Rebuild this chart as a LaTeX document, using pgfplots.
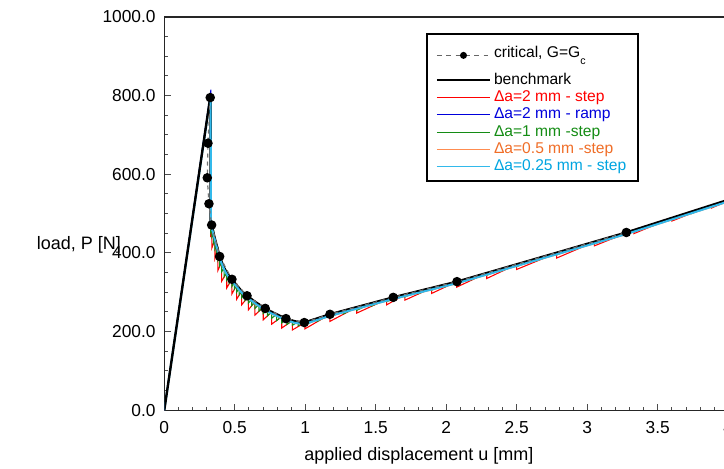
\documentclass[border=0pt]{standalone}
\usepackage{fontspec}
\setmainfont{Liberation Sans}
\usepackage{pgfplots}
\pgfplotsset{compat=1.18}
\definecolor{cred}{RGB}{255,0,0}
\definecolor{cblue}{RGB}{0,0,220}
\definecolor{cgreen}{RGB}{20,140,20}
\definecolor{corange}{RGB}{255,140,80}
\definecolor{corangetext}{RGB}{240,110,40}
\definecolor{ccyan}{RGB}{50,185,235}
\definecolor{ccyantext}{RGB}{0,165,225}
\begin{document}
\begin{tikzpicture}
\begin{axis}[
  at={(0,0)}, anchor=south west,
  scale only axis, width=423pt, height=295pt,
  xmin=0, xmax=4, ymin=0, ymax=1000,
  xtick={0,0.5,...,4}, ytick={0,200,...,1000},
  minor x tick num=4, minor y tick num=3,
  tick pos=left, tick align=inside,
  major tick length=4.9pt, minor tick length=2.6pt,
  axis line style={black!85, line width=0.9pt},
  every tick/.style={black!70, line width=0.7pt},
  tick label style={font=\fontsize{13}{15}\selectfont},
  /pgf/number format/assume math mode=true,
  xticklabel style={yshift=-5pt},
  yticklabel style={xshift=-3pt, /pgf/number format/.cd, fixed, fixed zerofill, precision=1, 1000 sep={}},
  xlabel={applied displacement u [mm]},
  ylabel={load, P [N]},
  every axis x label/.style={at={(rel axis cs:0.4516,0)}, anchor=base, yshift=-38pt, font=\fontsize{13.5}{15}\selectfont},
  every axis y label/.style={at={(rel axis cs:0,0.4076)}, anchor=base east, xshift=-29pt, font=\fontsize{13.5}{15}\selectfont},
  legend style={at={(0.464,0.959)}, anchor=north west, draw=black, line width=1.5pt, fill=white,
    font=\fontsize{11.7}{13}\selectfont, inner xsep=6.5pt, inner ysep=4pt,
    nodes={inner xsep=2pt, inner ysep=0.5pt, text height=9pt, text depth=3pt}},
  legend cell align=left,
  legend image code/.code={\draw[mark repeat=2,mark phase=2,#1] plot coordinates {(0pt,0pt) (20pt,0pt) (40pt,0pt)};},
]
% legend entries
\addlegendimage{black!60, dash pattern=on 3.5pt off 3.5pt, line width=0.8pt, mark=*, mark size=2.2pt, mark options={solid, fill=black, draw=black}}
\addlegendentry[text height=13pt, text depth=10pt]{critical, G=G\raisebox{-5pt}{\fontsize{8}{9}\selectfont c}}
\addlegendimage{black, line width=1.8pt}
\addlegendentry{benchmark}
\addlegendimage{cred, line width=0.8pt}
\addlegendentry[text=cred]{Δa=2 mm - step}
\addlegendimage{cblue, line width=0.8pt}
\addlegendentry[text=cblue]{Δa=2 mm - ramp}
\addlegendimage{cgreen, line width=0.8pt}
\addlegendentry[text=cgreen]{Δa=1 mm -step}
\addlegendimage{corange, line width=0.8pt}
\addlegendentry[text=corangetext]{Δa=0.5 mm -step}
\addlegendimage{ccyan, line width=0.8pt}
\addlegendentry[text=ccyantext]{Δa=0.25 mm - step}

% red: da = 2 mm step
\addplot[forget plot, cred, line width=0.8pt] coordinates {
(0,0) (0.329,805) (0.329,440)
(0.338,468) (0.338,413)
(0.36,435) (0.36,386)
(0.38,408) (0.38,355)
(0.407,377) (0.407,328)
(0.443,350) (0.443,311)
(0.48,333) (0.48,296)
(0.513,318) (0.513,282)
(0.549,303) (0.549,268)
(0.596,289) (0.596,255)
(0.643,276) (0.643,242)
(0.702,262) (0.702,230)
(0.762,250) (0.762,219)
(0.833,238) (0.833,209)
(0.908,228) (0.908,204)
(0.998,223) (0.998,207)
(1.175,244) (1.175,226)
(1.365,262) (1.365,247)
(1.577,282) (1.577,268)
(1.707,294) (1.707,280)
(1.896,311) (1.896,297)
(2.074,327) (2.074,313)
(2.287,349) (2.287,335)
(2.499,371) (2.499,358)
(2.783,400) (2.783,387)
(3.05,428) (3.05,418)
(3.33,458) (3.33,449)
(3.6,489) (3.6,481)
(3.88,521) (3.88,514)
(4.0,532)
};
% green: da = 1 mm step
\addplot[forget plot, cgreen, line width=0.8pt] coordinates {
(0,0) (0.329,805) (0.329,455)
(0.338,468) (0.338,441)
(0.349,451) (0.349,425)
(0.36,435) (0.36,411)
(0.37,421) (0.37,398)
(0.38,408) (0.38,381)
(0.393,391) (0.393,367)
(0.407,377) (0.407,352)
(0.425,362) (0.425,340)
(0.443,350) (0.443,331)
(0.46,341) (0.46,323)
(0.48,333) (0.48,315)
(0.497,325) (0.497,308)
(0.513,318) (0.513,300)
(0.531,310) (0.531,293)
(0.549,303) (0.549,286)
(0.572,296) (0.572,279)
(0.596,289) (0.596,272)
(0.62,282) (0.62,266)
(0.643,276) (0.643,259)
(0.672,269) (0.672,252)
(0.702,262) (0.702,246)
(0.732,256) (0.732,240)
(0.762,250) (0.762,234)
(0.797,244) (0.797,228)
(0.833,238) (0.833,222)
(0.87,232) (0.87,218)
(0.908,228) (0.908,216)
(0.95,225) (0.95,215)
(0.993,223) (0.993,214)
(1.085,233.6) (1.085,226)
(1.175,244) (1.175,236)
(1.27,253) (1.27,245)
(1.365,262) (1.365,254)
(1.47,272) (1.47,265)
(1.577,282.5) (1.577,276)
(1.707,294) (1.707,288)
(1.8,302.6) (1.8,296)
(1.896,311) (1.896,305)
(1.985,319) (1.985,313)
(2.074,327) (2.074,321)
(2.18,338) (2.18,332)
(2.287,349) (2.287,343)
(2.39,360) (2.39,354)
(2.499,371) (2.499,365)
(2.64,386) (2.64,380)
(2.783,400) (2.783,395)
(2.92,415) (2.92,410)
(3.05,428) (3.05,423)
(3.19,443) (3.19,438)
(3.33,458) (3.33,453)
(3.46,473) (3.46,468)
(3.6,489) (3.6,484)
(3.74,505) (3.74,500)
(3.88,521) (3.88,516)
(4.0,533)
};
% orange: da = 0.5 mm step
\addplot[forget plot, corange, line width=0.8pt] coordinates {
(0,0) (0.329,803) (0.329,462) (0.336,464)
(0.345,452) (0.36,430) (0.38,403) (0.393,386) (0.407,372) (0.425,357)
(0.443,345) (0.46,336) (0.48,328) (0.513,313) (0.549,298) (0.587,286)
(0.643,271) (0.702,257) (0.716,254) (0.762,245) (0.833,233) (0.863,228)
(0.908,223) (0.93,221) (0.993,218) (1.175,239) (1.624,282) (2.076,322)
(2.807,398) (3.277,447) (4.0,530)
};
% blue: da = 2 mm ramp
\addplot[forget plot, cblue, line width=0.8pt] coordinates {
(0,0) (0.331,815) (0.331,470)
(0.336,470) (0.345,456) (0.36,434) (0.38,407) (0.393,390) (0.407,376) (0.425,361)
(0.443,349) (0.46,340) (0.48,332) (0.513,317) (0.549,302) (0.587,290)
(0.643,275) (0.702,261) (0.716,258) (0.762,249) (0.833,237) (0.863,232)
(0.908,227) (0.93,225) (0.993,222) (1.175,243) (1.624,286) (2.076,326)
(2.807,402) (3.277,451) (4.0,534)
};
% cyan, loading branch (under the benchmark)
\addplot[forget plot, ccyan, line width=1.5pt] coordinates {
(0,0) (0.329,800)
};
% benchmark
\addplot[forget plot, black, line width=1.8pt] coordinates {
(0,0) (0.329,803) (0.329,480)
(0.336,471) (0.345,457) (0.36,435) (0.38,408) (0.393,391) (0.407,377) (0.425,362)
(0.443,350) (0.46,341) (0.48,333) (0.513,318) (0.549,303) (0.587,291)
(0.643,276) (0.702,262) (0.716,259) (0.762,250) (0.833,238) (0.863,233)
(0.908,228) (0.93,226) (0.993,223) (1.175,244) (1.624,287) (2.076,327)
(2.807,403) (3.277,452) (4.0,535)
};
% cyan: da = 0.25 mm step, softening branch
\addplot[forget plot, ccyan, line width=1.5pt] coordinates {
(0.329,800) (0.331,468)
(0.345,453) (0.36,431) (0.38,404) (0.393,387) (0.407,373) (0.425,358)
(0.443,346) (0.46,337) (0.48,329) (0.513,314) (0.549,299) (0.587,287)
(0.643,272) (0.702,258) (0.716,255) (0.762,246) (0.833,234) (0.863,229)
(0.908,224) (0.93,222) (0.993,219) (1.175,240) (1.624,283) (2.076,323)
(2.807,399) (3.277,448) (4.0,531)
};
% critical, G = Gc
\addplot[forget plot, black!55, dash pattern=on 3pt off 3pt, line width=0.9pt, mark=*, mark size=3.1pt, mark options={solid, fill=black, draw=black}] coordinates {
(0.326,795) (0.310,679) (0.305,591) (0.317,525) (0.336,471) (0.393,391)
(0.480,333) (0.587,291) (0.716,259) (0.863,233) (0.993,223) (1.175,244)
(1.624,287) (2.076,327) (3.277,452)
};
\end{axis}
\pgfresetboundingbox
\path[use as bounding box] (-123.2pt,-43.3pt) rectangle (419.8pt,307.7pt);
\end{tikzpicture}
\end{document}
